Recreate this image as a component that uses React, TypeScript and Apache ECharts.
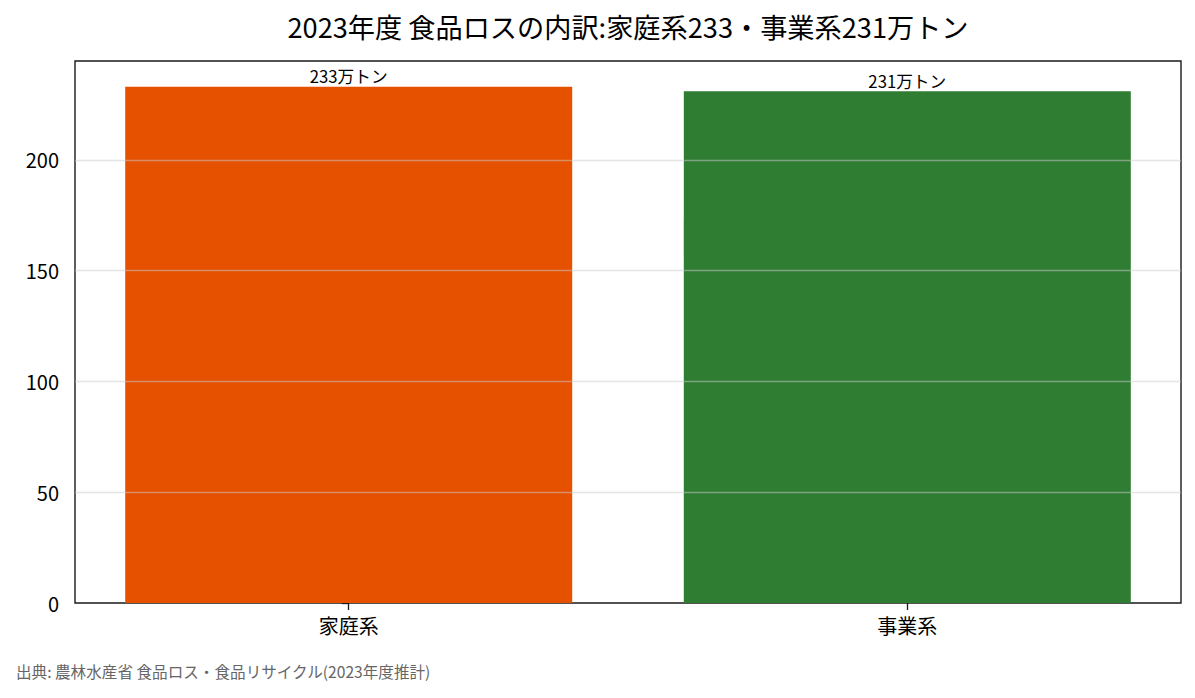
import React, { useEffect, useRef } from "react";
import * as echarts from "echarts";

const categories = ["家庭系", "事業系"];
const values = [233, 231];
const barColors = ["#e65100", "#2e7d32"];
const valueLabels = ["233万トン", "231万トン"];
const yTicks = [0, 50, 100, 150, 200];
const gridTicks = [50, 100, 150, 200];
const titleText = "2023年度 食品ロスの内訳:家庭系233・事業系231万トン";
const sourceText = "出典: 農林水産省 食品ロス・食品リサイクル(2023年度推計)";

const FONT = "'Noto Sans CJK JP', 'Noto Sans', sans-serif";

export default function App() {
  const ref = useRef<HTMLDivElement>(null);
  useEffect(() => {
    if (!ref.current) return;
    const chart = echarts.init(ref.current, undefined, { renderer: "svg" });
    const idx = categories.map((_, i) => i);
    const yMax = Math.max(...values) * 1.05;
    chart.setOption({
      animation: false,
      textStyle: { fontFamily: FONT },
      title: {
        text: titleText,
        left: 623,
        top: 7,
        textAlign: "center",
        textStyle: { fontFamily: FONT, fontSize: 27.2, fontWeight: "normal", color: "#000" },
      },
      graphic: [
        {
          type: "text",
          left: 16,
          top: 663,
          style: { text: sourceText, fontFamily: FONT, fontSize: 15.6, fill: "#666" },
        },
      ],
      grid: {
        left: 75,
        right: 14,
        top: 61,
        bottom: 95,
        show: true,
        borderColor: "#1a1a1a",
        borderWidth: 1.4,
        backgroundColor: "transparent",
      },
      xAxis: {
        type: "value",
        min: -0.49,
        max: 1.49,
        axisLine: { show: false },
        splitLine: { show: false },
        axisTick: { show: true, length: 7, customValues: idx, lineStyle: { color: "#1a1a1a", width: 1.3 } },
        axisLabel: {
          customValues: idx,
          formatter: (v: number) => categories[Math.round(v)] ?? "",
          fontFamily: FONT,
          fontSize: 20,
          color: "#000",
          margin: 12,
        },
      },
      yAxis: {
        type: "value",
        min: 0,
        max: yMax,
        axisLine: { show: false },
        splitLine: { show: false },
        axisTick: { show: true, length: 7, customValues: yTicks, lineStyle: { color: "#1a1a1a", width: 1.3 } },
        axisLabel: {
          customValues: yTicks,
          fontFamily: FONT,
          fontSize: 20,
          color: "#000",
          margin: 16,
        },
      },
      series: [
        {
          type: "bar",
          barWidth: 447,
          data: values.map((v, i) => ({
            value: [idx[i], v],
            itemStyle: { color: barColors[i] },
            label: { formatter: valueLabels[i] },
          })),
          label: {
            show: true,
            position: "top",
            distance: 2,
            fontFamily: FONT,
            fontSize: 16.7,
            color: "#000",
          },
          markLine: {
            silent: true,
            symbol: "none",
            label: { show: false },
            lineStyle: { color: "rgba(204,204,204,0.5)", type: "solid", width: 1.4 },
            data: gridTicks.map((t) => ({ yAxis: t })),
          },
        },
      ],
    });
    return () => chart.dispose();
  }, []);
  return <div ref={ref} style={{ width: 1195, height: 698, position: "absolute", left: 0, top: 0 }} />;
}
